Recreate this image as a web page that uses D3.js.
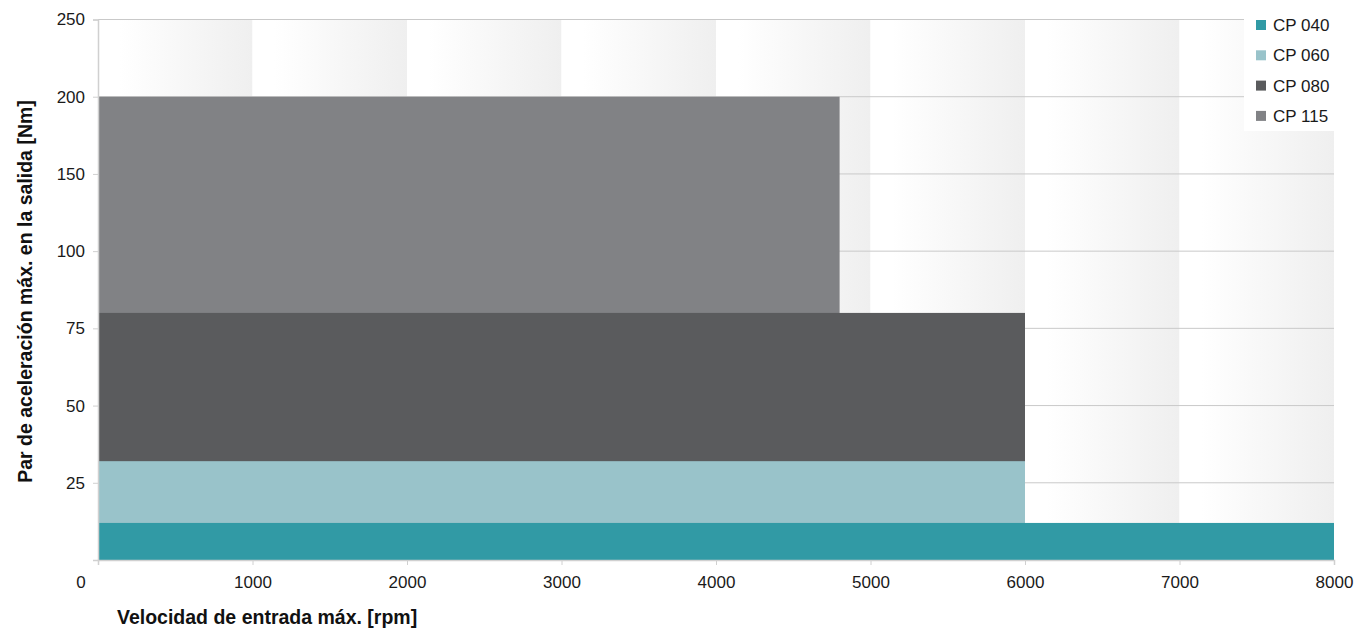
<!DOCTYPE html>
<html>
<head>
<meta charset="utf-8">
<script src="https://cdn.jsdelivr.net/npm/d3@7"></script>
<style>
  html, body { margin: 0; padding: 0; background: #fff; }
  svg { display: block; font-family: "Liberation Sans", Arial, Helvetica, sans-serif; }
</style>
</head>
<body>
<svg id="chart" width="1368" height="632"></svg>
<script>
// Gearbox series: maximum input speed [rpm] and maximum acceleration torque [Nm]
const series = ["CP 040", "CP 060", "CP 080", "CP 115"];
const maxSpeed = [8000, 6000, 6000, 4800];
const maxTorque = [12, 32, 80, 200];
const colors = ["#319aa5", "#99c3ca", "#5a5b5d", "#818285"];

// Axis ticks (the torque axis uses evenly spaced, non-uniform steps)
const xTicks = [0, 1000, 2000, 3000, 4000, 5000, 6000, 7000, 8000];
const yTicks = [0, 25, 50, 75, 100, 150, 200, 250];

const svg = d3.select("#chart");
const plotLeft = 98, plotRight = 1334, plotTop = 19.5, plotBottom = 560;

const x = d3.scaleLinear().domain([0, 8000]).range([plotLeft, plotRight]);
const yStep = (plotBottom - plotTop) / (yTicks.length - 1);
const y = d3.scaleLinear()
  .domain(yTicks)
  .range(yTicks.map((d, i) => plotBottom - i * yStep));

// Background bands: one soft horizontal gradient per 1000 rpm
const defs = svg.append("defs");
const grad = defs.append("linearGradient").attr("id", "band")
  .attr("x1", "0%").attr("x2", "100%").attr("y1", "0%").attr("y2", "0%");
grad.append("stop").attr("offset", "0%").attr("stop-color", "#ffffff");
grad.append("stop").attr("offset", "14%").attr("stop-color", "#ffffff");
grad.append("stop").attr("offset", "100%").attr("stop-color", "#efefef");

svg.append("g").selectAll("rect")
  .data(xTicks.slice(0, -1))
  .join("rect")
  .attr("x", d => x(d))
  .attr("y", plotTop)
  .attr("width", d => x(d + 1000) - x(d))
  .attr("height", plotBottom - plotTop)
  .attr("fill", "url(#band)");

// Horizontal grid lines
svg.append("g").selectAll("line")
  .data(yTicks.slice(1))
  .join("line")
  .attr("x1", plotLeft).attr("x2", plotRight)
  .attr("y1", d => y(d)).attr("y2", d => y(d))
  .attr("stroke", "#c9c9c9").attr("stroke-width", 1);

// Torque/speed envelopes, largest drawn first so smaller ones sit on top
const rows = series.map((s, i) => ({ s, speed: maxSpeed[i], torque: maxTorque[i], color: colors[i] }));
svg.append("g").selectAll("rect")
  .data(rows.slice().reverse())
  .join("rect")
  .attr("x", x(0))
  .attr("y", d => y(d.torque))
  .attr("width", d => x(d.speed) - x(0))
  .attr("height", d => y(0) - y(d.torque))
  .attr("fill", d => d.color);

// Y axis
const yAxis = svg.append("g")
  .attr("transform", `translate(${plotLeft},0)`)
  .call(d3.axisLeft(y).tickValues(yTicks).tickSize(5).tickPadding(8)
    .tickFormat(d => d === 0 ? "" : d));
yAxis.select(".domain").attr("stroke", "#d0d0d0").attr("stroke-width", 1.5);
yAxis.selectAll(".tick line").attr("stroke", "#d0d0d0");
yAxis.selectAll(".tick text").attr("font-size", 17).attr("fill", "#1a1a1a")
  .attr("font-family", "Liberation Sans, Arial, sans-serif");

// X axis
const xAxis = svg.append("g")
  .attr("transform", `translate(0,${plotBottom})`)
  .call(d3.axisBottom(x).tickValues(xTicks).tickSize(5).tickPadding(11)
    .tickFormat(d3.format("d")));
xAxis.select(".domain").attr("stroke", "#d0d0d0").attr("stroke-width", 1.5);
xAxis.selectAll(".tick line").attr("stroke", "#d0d0d0");
xAxis.selectAll(".tick text").attr("font-size", 17).attr("fill", "#1a1a1a")
  .attr("font-family", "Liberation Sans, Arial, sans-serif")
  .attr("dx", d => d === 0 ? -17.5 : 0);

// Axis titles
svg.append("text")
  .attr("x", 117).attr("y", 624)
  .attr("font-size", 19.5).attr("font-weight", "bold").attr("fill", "#111")
  .text("Velocidad de entrada máx. [rpm]");

svg.append("text")
  .attr("transform", "translate(32,291.5) rotate(-90)")
  .attr("text-anchor", "middle")
  .attr("font-size", 19.5).attr("font-weight", "bold").attr("fill", "#111")
  .text("Par de aceleración máx. en la salida [Nm]");

// Legend
const legend = svg.append("g");
legend.append("rect")
  .attr("x", 1244).attr("y", 0).attr("width", 90).attr("height", 131)
  .attr("fill", "#fff");
const item = legend.selectAll("g.item")
  .data(rows)
  .join("g").attr("class", "item")
  .attr("transform", (d, i) => `translate(1256,${20 + i * 30.3})`);
item.append("rect").attr("width", 10).attr("height", 10).attr("fill", d => d.color);
item.append("text")
  .attr("x", 17).attr("y", 11)
  .attr("font-size", 17).attr("fill", "#1a1a1a")
  .text(d => d.s);
</script>
</body>
</html>
